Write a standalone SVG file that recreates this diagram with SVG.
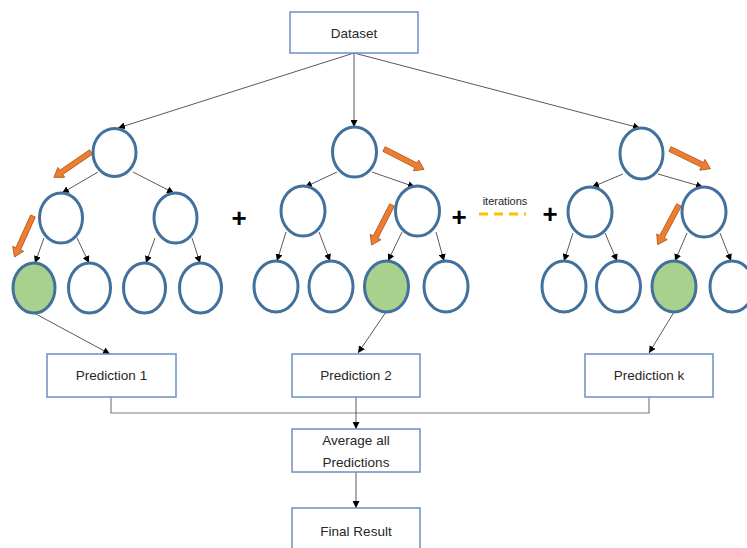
<svg xmlns="http://www.w3.org/2000/svg" xmlns:xlink="http://www.w3.org/1999/xlink" width="747" height="548" viewBox="0 0 747 548">
  <style>
    .box { fill: #ffffff; stroke: #6d8fc2; stroke-width: 1.5; }
    .lbl { font-family: "Liberation Sans", Arial, sans-serif; font-size: 13.5px; fill: #262626; text-anchor: middle; }
    .node { fill: #ffffff; stroke: #41719c; stroke-width: 3; }
    .leaf { fill: #a9d18e; stroke: #41719c; stroke-width: 3; }
    .edge { fill: none; stroke: #595959; stroke-width: 1; marker-end: url(#tip); }
    .bus { fill: none; stroke: #7f7f7f; stroke-width: 1.2; }
    .plus { font-family: "Liberation Sans", Arial, sans-serif; font-size: 26px; font-weight: bold; fill: #000000; text-anchor: middle; }
    .path-arrow { fill: #ed7d31; stroke: #b35a1f; stroke-width: 0.8; }
  </style>
  <defs>
    <marker id="tip" viewBox="0 0 8 8" refX="8" refY="4" markerWidth="7" markerHeight="7" markerUnits="userSpaceOnUse" orient="auto">
      <path d="M0,0 L8,4 L0,8 z" fill="#000000"/>
    </marker>
    <!-- thick orange block arrow, pointing along +x, 45 long -->
    <polygon id="block" class="path-arrow" points="0,-2.6 36,-2.6 36,-6 45,0 36,6 36,2.6 0,2.6"/>
  </defs>

  <rect width="747" height="548" fill="#ffffff"/>

  <!-- connectors -->
  <g id="connectors">
    <!-- dataset to tree roots -->
    <path class="edge" d="M354,53 L118,128"/>
    <path class="edge" d="M354,53 L354,127"/>
    <path class="edge" d="M354,53 L640,128"/>

    <!-- tree 1 -->
    <path class="edge" d="M98,172 L62,193"/>
    <path class="edge" d="M133,172 L174,193"/>
    <path class="edge" d="M44,238 L35,263"/>
    <path class="edge" d="M77,238 L89,263"/>
    <path class="edge" d="M155,238 L146,263"/>
    <path class="edge" d="M192,238 L200,263"/>

    <!-- tree 2 -->
    <path class="edge" d="M337,172 L305,187"/>
    <path class="edge" d="M372,172 L415,187"/>
    <path class="edge" d="M286,232 L277,261"/>
    <path class="edge" d="M319,232 L330,261"/>
    <path class="edge" d="M402,232 L388,261"/>
    <path class="edge" d="M436,232 L444,261"/>

    <!-- tree k -->
    <path class="edge" d="M623,174 L592,187"/>
    <path class="edge" d="M658,174 L703,187"/>
    <path class="edge" d="M573,233 L564,261"/>
    <path class="edge" d="M605,233 L617,261"/>
    <path class="edge" d="M687,233 L675,261"/>
    <path class="edge" d="M720,233 L731,261"/>

    <!-- selected leaves to predictions -->
    <path class="edge" d="M34,313 L110,354"/>
    <path class="edge" d="M386,312 L358,353"/>
    <path class="edge" d="M674,312 L649,353"/>

    <!-- predictions collected into the average -->
    <path class="bus" d="M111,397 L111,413 L649,413 L649,397"/>
    <path class="edge" d="M356,397 L356,429"/>
    <path class="edge" d="M356,472 L356,508"/>
  </g>

  <!-- decision path arrows -->
  <g id="paths">
    <use xlink:href="#block" transform="translate(91,152) rotate(145.6)"/>
    <use xlink:href="#block" transform="translate(33,216) rotate(114.3)"/>
    <use xlink:href="#block" transform="translate(384,149) rotate(27.1)"/>
    <use xlink:href="#block" transform="translate(392,205) rotate(117.1)"/>
    <use xlink:href="#block" transform="translate(670,149) rotate(26)"/>
    <use xlink:href="#block" transform="translate(679,205) rotate(118.2)"/>
  </g>

  <!-- tree 1 -->
  <g id="tree1">
    <ellipse class="node" cx="114.5" cy="152.5" rx="21.5" ry="24"/>
    <ellipse class="node" cx="61" cy="218" rx="21.5" ry="25"/>
    <ellipse class="node" cx="175.5" cy="218" rx="21.5" ry="25"/>
    <ellipse class="leaf" cx="34" cy="288" rx="21" ry="25"/>
    <ellipse class="node" cx="89.5" cy="288" rx="21" ry="25"/>
    <ellipse class="node" cx="144.5" cy="288" rx="21" ry="25"/>
    <ellipse class="node" cx="200.5" cy="288" rx="21" ry="25"/>
  </g>

  <!-- tree 2 -->
  <g id="tree2">
    <ellipse class="node" cx="354.5" cy="152" rx="22" ry="25"/>
    <ellipse class="node" cx="303" cy="211" rx="22" ry="25"/>
    <ellipse class="node" cx="417.5" cy="211" rx="22" ry="25"/>
    <ellipse class="node" cx="276" cy="286.5" rx="22" ry="25.5"/>
    <ellipse class="node" cx="331" cy="286.5" rx="22" ry="25.5"/>
    <ellipse class="leaf" cx="386.5" cy="286.5" rx="22" ry="25.5"/>
    <ellipse class="node" cx="446" cy="286.5" rx="22" ry="25.5"/>
  </g>

  <!-- tree k -->
  <g id="treek">
    <ellipse class="node" cx="641.5" cy="153.5" rx="21.5" ry="25.5"/>
    <ellipse class="node" cx="590" cy="212" rx="22" ry="25"/>
    <ellipse class="node" cx="704" cy="212" rx="22" ry="25"/>
    <ellipse class="node" cx="564" cy="286.5" rx="22" ry="25.5"/>
    <ellipse class="node" cx="618.5" cy="286.5" rx="22" ry="25.5"/>
    <ellipse class="leaf" cx="674" cy="286.5" rx="22" ry="25.5"/>
    <ellipse class="node" cx="732" cy="286.5" rx="22" ry="25.5"/>
  </g>

  <!-- ensemble joins -->
  <g id="joins">
    <text class="plus" x="239" y="227">+</text>
    <text class="plus" x="459" y="226">+</text>
    <text class="plus" x="550" y="223">+</text>
    <text x="505" y="205" font-family="'Liberation Sans', Arial, sans-serif" font-size="11px" fill="#262626" text-anchor="middle">iterations</text>
    <line x1="479" y1="214" x2="526" y2="214" stroke="#ffc000" stroke-width="3" stroke-dasharray="9,6"/>
  </g>

  <g id="dataset">
    <rect class="box" x="290" y="12" width="128" height="41"/>
    <text class="lbl" x="354" y="37.5">Dataset</text>
  </g>

  <g id="prediction1">
    <rect class="box" x="47" y="354" width="129" height="43"/>
    <text class="lbl" x="111.5" y="380">Prediction 1</text>
  </g>

  <g id="prediction2">
    <rect class="box" x="292" y="354" width="128" height="43"/>
    <text class="lbl" x="356" y="380">Prediction 2</text>
  </g>

  <g id="predictionk">
    <rect class="box" x="585" y="354" width="128" height="43"/>
    <text class="lbl" x="649" y="380">Prediction k</text>
  </g>

  <g id="average">
    <rect class="box" x="292" y="429" width="128" height="43"/>
    <text class="lbl" x="356" y="445">Average all</text>
    <text class="lbl" x="356" y="467">Predictions</text>
  </g>

  <g id="final">
    <rect class="box" x="292" y="508" width="128" height="43"/>
    <text class="lbl" x="356" y="536">Final Result</text>
  </g>
</svg>
